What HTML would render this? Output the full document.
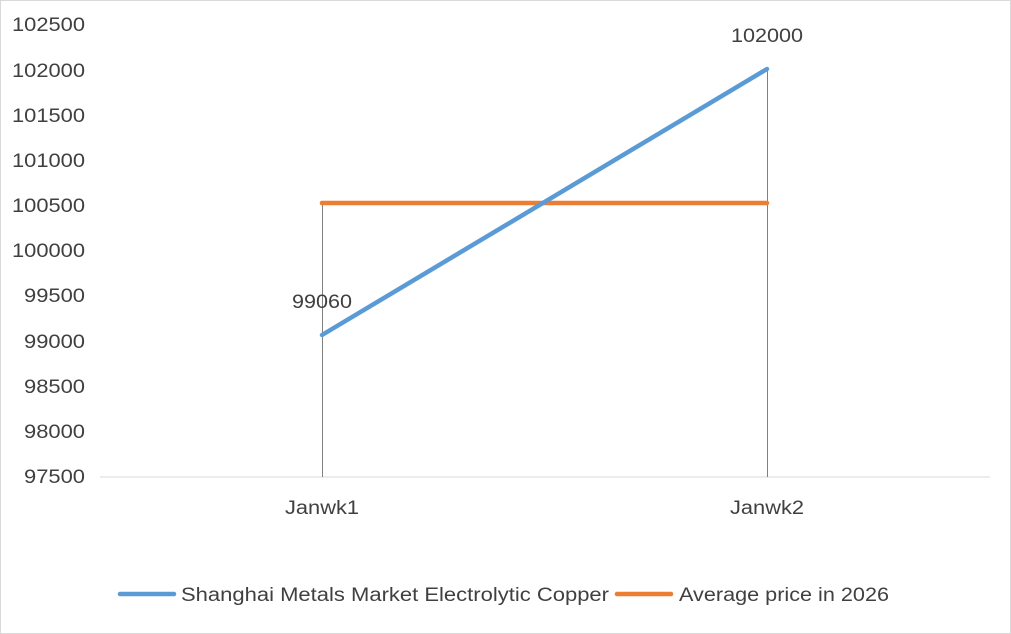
<!DOCTYPE html>
<html><head><meta charset="utf-8"><style>
html,body{margin:0;padding:0;background:#fff;}
svg{display:block;}
text{font-family:"Liberation Sans",sans-serif;fill:#404040;}
</style></head><body>
<svg width="1011" height="634" viewBox="0 0 1011 634">
<rect x="0.5" y="0.5" width="1010" height="633" fill="#fff" stroke="#d9d9d9"/>
<g font-size="19">
<text x="12" y="31" textLength="73" lengthAdjust="spacingAndGlyphs">102500</text>
<text x="12" y="77" textLength="73" lengthAdjust="spacingAndGlyphs">102000</text>
<text x="12" y="122" textLength="73" lengthAdjust="spacingAndGlyphs">101500</text>
<text x="12" y="167" textLength="73" lengthAdjust="spacingAndGlyphs">101000</text>
<text x="12" y="212" textLength="73" lengthAdjust="spacingAndGlyphs">100500</text>
<text x="12" y="257" textLength="73" lengthAdjust="spacingAndGlyphs">100000</text>
<text x="24" y="302" textLength="61" lengthAdjust="spacingAndGlyphs">99500</text>
<text x="24" y="348" textLength="61" lengthAdjust="spacingAndGlyphs">99000</text>
<text x="24" y="393" textLength="61" lengthAdjust="spacingAndGlyphs">98500</text>
<text x="24" y="438" textLength="61" lengthAdjust="spacingAndGlyphs">98000</text>
<text x="24" y="483" textLength="61" lengthAdjust="spacingAndGlyphs">97500</text>
</g>
<line x1="100" y1="477" x2="990" y2="477" stroke="#d9d9d9" stroke-width="1"/>
<line x1="322.5" y1="202" x2="322.5" y2="477" stroke="#808080" stroke-width="1"/>
<line x1="767.5" y1="69" x2="767.5" y2="477" stroke="#808080" stroke-width="1"/>
<line x1="322" y1="203" x2="767" y2="203" stroke="#ed7d31" stroke-width="4.5" stroke-linecap="round"/>
<line x1="322" y1="335" x2="767" y2="69" stroke="#5b9bd5" stroke-width="4.5" stroke-linecap="round"/>
<g font-size="19">
<text x="292" y="308" textLength="60" lengthAdjust="spacingAndGlyphs">99060</text>
<text x="731" y="42" textLength="72" lengthAdjust="spacingAndGlyphs">102000</text>
<text x="285" y="514" textLength="74" lengthAdjust="spacingAndGlyphs">Janwk1</text>
<text x="730" y="514" textLength="74" lengthAdjust="spacingAndGlyphs">Janwk2</text>
</g>
<line x1="120" y1="594" x2="174" y2="594" stroke="#5b9bd5" stroke-width="4.5" stroke-linecap="round"/>
<text x="181" y="601" font-size="19" textLength="428" lengthAdjust="spacingAndGlyphs">Shanghai Metals Market Electrolytic Copper</text>
<line x1="617" y1="594" x2="671" y2="594" stroke="#ed7d31" stroke-width="4.5" stroke-linecap="round"/>
<text x="679" y="601" font-size="19" textLength="210" lengthAdjust="spacingAndGlyphs">Average price in 2026</text>
</svg>
</body></html>
